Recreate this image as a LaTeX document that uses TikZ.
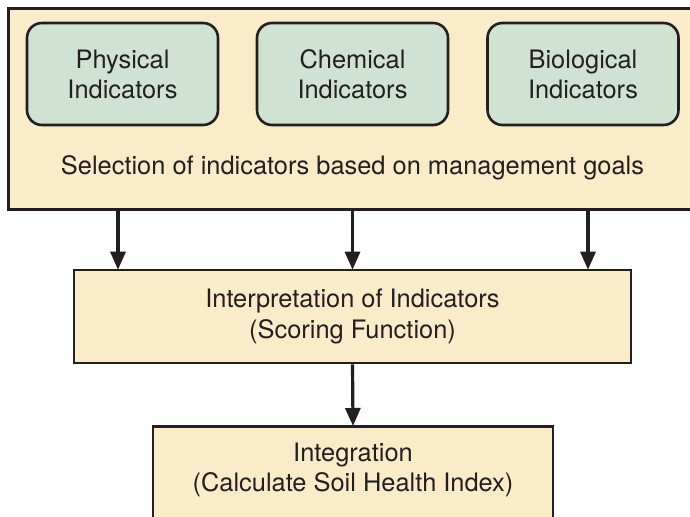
\documentclass[tikz,border=0pt]{standalone}
\usepackage{fontspec}
\setmainfont{TeX Gyre Heros}
\usetikzlibrary{arrows.meta,positioning}
\definecolor{ink}{HTML}{231F20}
\definecolor{sand}{HTML}{FAEBC9}
\definecolor{sage}{HTML}{D0E3D3}
\tikzset{
  panel/.style={draw=ink, line width=2.6bp, fill=sand, rectangle, inner sep=0pt},
  indbox/.style={draw=ink, line width=2.6bp, fill=sage, rounded corners=15bp,
    minimum width=191bp, minimum height=102bp, inner sep=0pt, align=center,
    text=ink, font=\fontsize{25.5}{30}\selectfont},
  label/.style={align=center, text=ink, inner sep=0pt, font=\fontsize{25.5}{30.5}\selectfont},
  flow/.style={draw=ink, line width=3.2bp, -{Triangle[width=15bp,length=18bp]}, shorten >=-1bp}
}
\begin{document}
\begin{tikzpicture}[x=1bp, y=-1bp]
  \useasboundingbox (0,0) rectangle (690,517);
  \clip (0,0) rectangle (690,517);
  \fill[white] (0,0) rectangle (690,517);

  % selection panel (runs past the right edge)
  \node[panel, anchor=north west, minimum width=700bp, minimum height=201bp] (outer) at (7,7) {};
  \node[indbox] (phys) at (122.5,74) {Physical\\Indicators};
  \node[indbox] (chem) at (352.5,74) {Chemical\\Indicators};
  \node[indbox] (bio)  at (583,74)   {Biological\\Indicators};
  \node[label] (sel) at (352.5,168) {Selection of indicators based on management goals};

  % interpretation step
  \node[panel, minimum width=557bp, minimum height=93bp] (interp) at (352.5,316.5) {};
  \node[label] (interptext) at (interp.center) {Interpretation of Indicators\\(Scoring Function)};

  % integration step (runs past the bottom edge)
  \node[panel, anchor=north, minimum width=400bp, minimum height=120bp] (integ) at (353,425) {};
  \node[label] (integtext) at (353,470) {Integration\\(Calculate Soil Health Index)};

  % connectors
  \draw[flow] ([xshift=-4.5bp]phys.south |- outer.south) -- ([xshift=-4.5bp]phys.south |- interp.north);
  \draw[flow] (chem.south |- outer.south) -- (chem.south |- interp.north);
  \draw[flow] ([xshift=5bp]bio.south |- outer.south) -- ([xshift=5bp]bio.south |- interp.north);
  \draw[flow] (interp.south) -- (integ.north);
\end{tikzpicture}
\end{document}
